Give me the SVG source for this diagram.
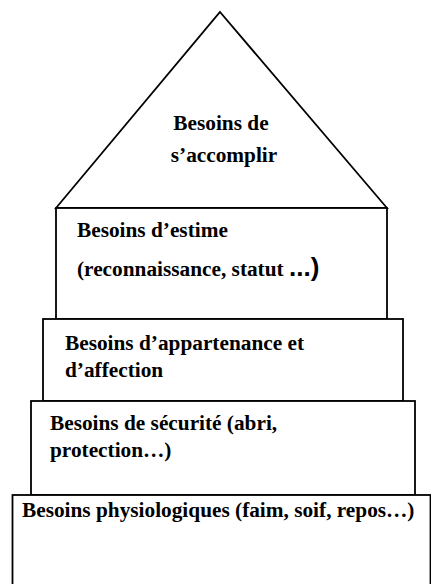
<svg xmlns="http://www.w3.org/2000/svg" width="431" height="584" viewBox="0 0 431 584">
<style>
.s{fill:#fff;stroke:#000;stroke-width:1.8}
.t{font-family:"Liberation Serif","Times New Roman",serif;font-weight:bold;font-size:21.3px;fill:#000}
.big{font-family:"Liberation Sans",Arial,sans-serif;font-weight:bold;font-size:26px}
</style>
<rect width="431" height="584" fill="#fff"/>
<g id="accomplir">
<polygon class="s" points="220,12 387,208 56,208"/>
<text class="t" x="221" y="130" text-anchor="middle">Besoins de</text>
<text class="t" x="224" y="162" text-anchor="middle">s’accomplir</text>
</g>
<g id="estime">
<rect class="s" x="56" y="208" width="331" height="111"/>
<text class="t" x="77" y="237">Besoins d’estime</text>
<text class="t" x="77" y="276">(reconnaissance, statut <tspan class="big">...)</tspan></text>
</g>
<g id="appartenance">
<rect class="s" x="43" y="319" width="360" height="82"/>
<text class="t" x="65" y="350">Besoins d’appartenance et</text>
<text class="t" x="65" y="377">d’affection</text>
</g>
<g id="securite">
<rect class="s" x="31" y="401" width="384" height="94"/>
<text class="t" x="50" y="430">Besoins de sécurité (abri,</text>
<text class="t" x="50" y="457">protection…)</text>
</g>
<g id="physiologiques">
<rect class="s" x="12.5" y="495" width="418" height="110"/>
<text class="t" x="22" y="517">Besoins physiologiques (faim, soif, repos…)</text>
</g>
<g id="connectors"></g>
</svg>
